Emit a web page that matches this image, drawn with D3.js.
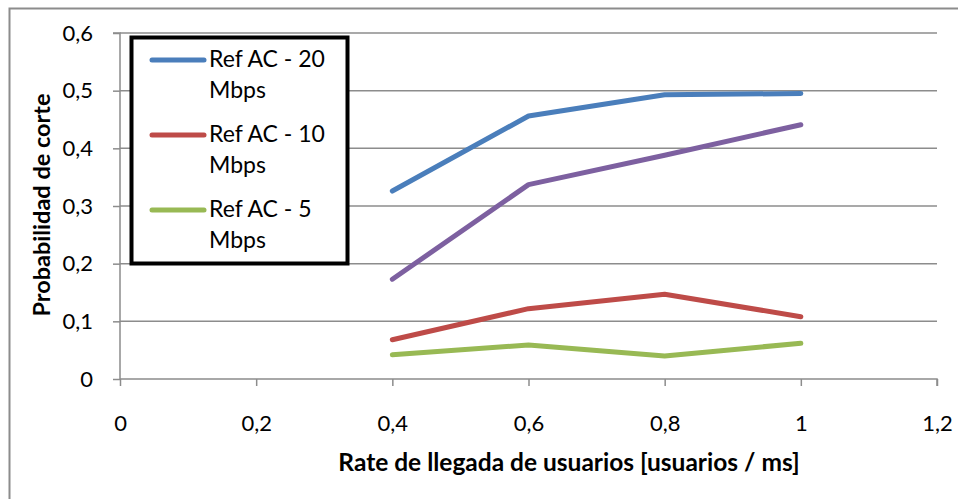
<!DOCTYPE html>
<html>
<head>
<meta charset="utf-8">
<script src="https://cdn.jsdelivr.net/npm/d3@7"></script>
<style>
  html, body { margin: 0; padding: 0; background: #fff; }
  svg { display: block; font-family: Lato, "Open Sans", sans-serif; }
</style>
</head>
<body>
<svg id="chart" width="958" height="499"></svg>
<script>
// Blocking probability vs. user arrival rate
const rates = [0.4, 0.6, 0.8, 1.0];
const ref20 = [0.326, 0.456, 0.493, 0.495];
const ref10 = [0.068, 0.122, 0.147, 0.108];
const ref5  = [0.042, 0.059, 0.040, 0.062];
const other = [0.173, 0.337, 0.388, 0.441];
const xTicks = [0, 0.2, 0.4, 0.6, 0.8, 1.0, 1.2];
const yTicks = [0, 0.1, 0.2, 0.3, 0.4, 0.5, 0.6];

const series = [
  { name: "Ref AC - 20 Mbps", values: ref20, color: "#4a7ebb", legend: true },
  { name: "Ref AC - 10 Mbps", values: ref10, color: "#be4b48", legend: true },
  { name: "Ref AC - 5 Mbps",  values: ref5,  color: "#98b954", legend: true },
  { name: "", values: other, color: "#7d60a0", legend: false }
];

const svg = d3.select("#chart");
const fmt = d => String(d).replace(".", ",");

// outer chart frame
svg.append("rect")
  .attr("x", 9.5).attr("y", 8.5).attr("width", 960).attr("height", 500)
  .attr("fill", "#fff").attr("stroke", "#8c8c8c").attr("stroke-width", 2);

const x = d3.scaleLinear().domain([0, 1.2]).range([120, 937]);
const y = d3.scaleLinear().domain([0, 0.6]).range([379, 33]);

// horizontal gridlines
svg.append("g")
  .selectAll("line")
  .data(yTicks.filter(d => d > 0))
  .join("line")
  .attr("x1", x(0)).attr("x2", x(1.2))
  .attr("y1", d => y(d)).attr("y2", d => y(d))
  .attr("stroke", "#8c8c8c").attr("stroke-width", 1.5);

// y axis
const yAxis = svg.append("g")
  .attr("transform", `translate(${x(0)},0)`)
  .call(d3.axisLeft(y).tickValues(yTicks).tickFormat(fmt).tickSize(7).tickPadding(20));
yAxis.select(".domain").attr("stroke", "#8c8c8c").attr("stroke-width", 1.5)
  .attr("d", `M-7,${y(0.6)}H0V${y(0)}`);
yAxis.selectAll(".tick line").attr("stroke", "#8c8c8c").attr("stroke-width", 1.5);
yAxis.selectAll(".tick text").attr("fill", "#000").style("font-size", "22px")
  .style("font-family", "Lato, sans-serif");

// x axis
const xAxis = svg.append("g")
  .attr("transform", `translate(0,${y(0)})`)
  .call(d3.axisBottom(x).tickValues(xTicks).tickFormat(fmt).tickSize(7).tickPadding(29));
xAxis.select(".domain").attr("stroke", "#8c8c8c").attr("stroke-width", 1.5)
  .attr("d", `M${x(0)},0H${x(1.2)}V7`);
xAxis.selectAll(".tick line").attr("stroke", "#8c8c8c").attr("stroke-width", 1.5);
xAxis.selectAll(".tick text").attr("fill", "#000").style("font-size", "22px")
  .style("font-family", "Lato, sans-serif");

// series lines
const line = d3.line().x((d, i) => x(rates[i])).y(d => y(d));
svg.append("g")
  .selectAll("path")
  .data(series)
  .join("path")
  .attr("d", d => line(d.values))
  .attr("fill", "none")
  .attr("stroke", d => d.color)
  .attr("stroke-width", 5)
  .attr("stroke-linecap", "round")
  .attr("stroke-linejoin", "round");

// axis titles
svg.append("text")
  .attr("x", 569).attr("y", 471)
  .attr("text-anchor", "middle")
  .style("font-size", "24.5px").style("font-weight", "bold")
  .text("Rate de llegada de usuarios [usuarios / ms]");

svg.append("text")
  .attr("transform", "translate(50,205) rotate(-90)")
  .attr("text-anchor", "middle")
  .style("font-size", "23.5px").style("font-weight", "bold")
  .text("Probabilidad de corte");

// legend
const legend = svg.append("g");
legend.append("rect")
  .attr("x", 131.5).attr("y", 37.5).attr("width", 216).attr("height", 226)
  .attr("fill", "#fff").attr("stroke", "#000").attr("stroke-width", 4);

const entries = series.filter(s => s.legend);
const item = legend.selectAll("g.item")
  .data(entries)
  .join("g")
  .attr("class", "item")
  .attr("transform", (d, i) => `translate(0,${60 + i * 75})`);
item.append("line")
  .attr("x1", 152).attr("x2", 204).attr("y1", 0).attr("y2", 0)
  .attr("stroke", d => d.color).attr("stroke-width", 5)
  .attr("stroke-linecap", "round");
item.each(function(d) {
  const words = d.name.split(" ");
  const first = words.slice(0, -1).join(" ");
  const last = words[words.length - 1];
  const t = d3.select(this).append("text")
    .attr("x", 209).attr("y", 7)
    .style("font-size", "23px").attr("fill", "#000");
  t.append("tspan").attr("x", 209).attr("dy", 0).text(first);
  t.append("tspan").attr("x", 209).attr("dy", 31).text(last);
});
</script>
</body>
</html>
